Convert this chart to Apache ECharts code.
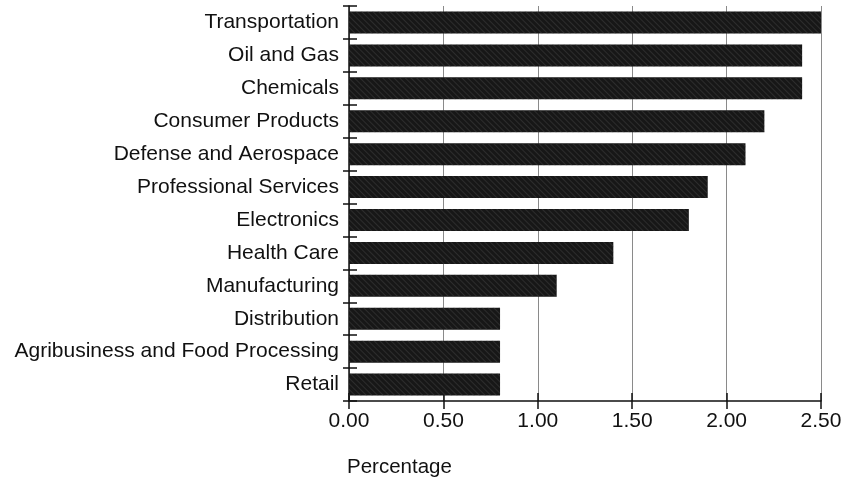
<!DOCTYPE html>
<html>
<head>
<meta charset="utf-8">
<script src="https://cdn.jsdelivr.net/npm/echarts@6/dist/echarts.min.js"></script>
<style>
html,body{margin:0;padding:0;background:#fff;}
#chart{width:853px;height:481px;}
</style>
</head>
<body>
<div id="chart"></div>
<script>
var categories = ["Transportation","Oil and Gas","Chemicals","Consumer Products","Defense and Aerospace","Professional Services","Electronics","Health Care","Manufacturing","Distribution","Agribusiness and Food Processing","Retail"];
var values = [2.5, 2.4, 2.4, 2.2, 2.1, 1.9, 1.8, 1.4, 1.1, 0.8, 0.8, 0.8];
var xTicks = [0, 0.5, 1.0, 1.5, 2.0, 2.5];

var FONT = '"Liberation Sans", Arial, Helvetica, sans-serif';
var chart = echarts.init(document.getElementById('chart'));
var xMin = xTicks[0], xMax = xTicks[xTicks.length-1], xStep = xTicks[1]-xTicks[0];
chart.setOption({
  backgroundColor: '#ffffff',
  animation: false,
  title: {
    text: 'Percentage',
    left: 342, top: 452,
    textStyle: {fontFamily: FONT, fontSize: 20.5, fontWeight: 'normal', color: '#111'}
  },
  grid: {left: 349, right: 32, top: 6, bottom: 80, containLabel: false},
  xAxis: [{
    type: 'value', min: xMin, max: xMax, interval: xStep, position: 'bottom',
    axisLine: {show: true, lineStyle: {color: '#111', width: 1.5}},
    axisTick: {show: true, inside: false, length: 8, lineStyle: {color: '#111', width: 1.5}},
    axisLabel: {margin: 10, fontFamily: FONT, fontSize: 21, color: '#111',
      formatter: function(v){ return v.toFixed(2); }},
    splitLine: {show: true, lineStyle: {color: '#8a8a8a', width: 1}}
  }, {
    type: 'value', min: xMin, max: xMax, interval: xStep, position: 'bottom', offset: 0,
    axisLine: {show: false},
    axisTick: {show: true, inside: true, length: 8, lineStyle: {color: '#111', width: 1.5}},
    axisLabel: {show: false},
    splitLine: {show: false}
  }],
  yAxis: [{
    type: 'category', data: categories, inverse: true,
    axisLine: {show: true, lineStyle: {color: '#111', width: 1.5}},
    axisTick: {show: true, inside: false, length: 6, lineStyle: {color: '#111', width: 1.5}},
    axisLabel: {margin: 10, fontFamily: FONT, fontSize: 21, color: '#111'},
    splitLine: {show: false}
  }, {
    type: 'category', data: categories, inverse: true, position: 'left',
    axisLine: {show: false},
    axisTick: {show: true, inside: true, length: 8, lineStyle: {color: '#111', width: 1.5}},
    axisLabel: {show: false},
    splitLine: {show: false}
  }],
  series: [{
    type: 'bar', data: values, barWidth: 22,
    itemStyle: {
      color: '#171717',
      decal: {symbol: 'rect', symbolSize: 1, dashArrayX: [1, 0], dashArrayY: [1, 3],
              rotation: Math.PI / 4, color: 'rgba(70,70,70,0.45)'}
    },
    xAxisIndex: 0, yAxisIndex: 0
  }]
});
</script>
</body>
</html>
